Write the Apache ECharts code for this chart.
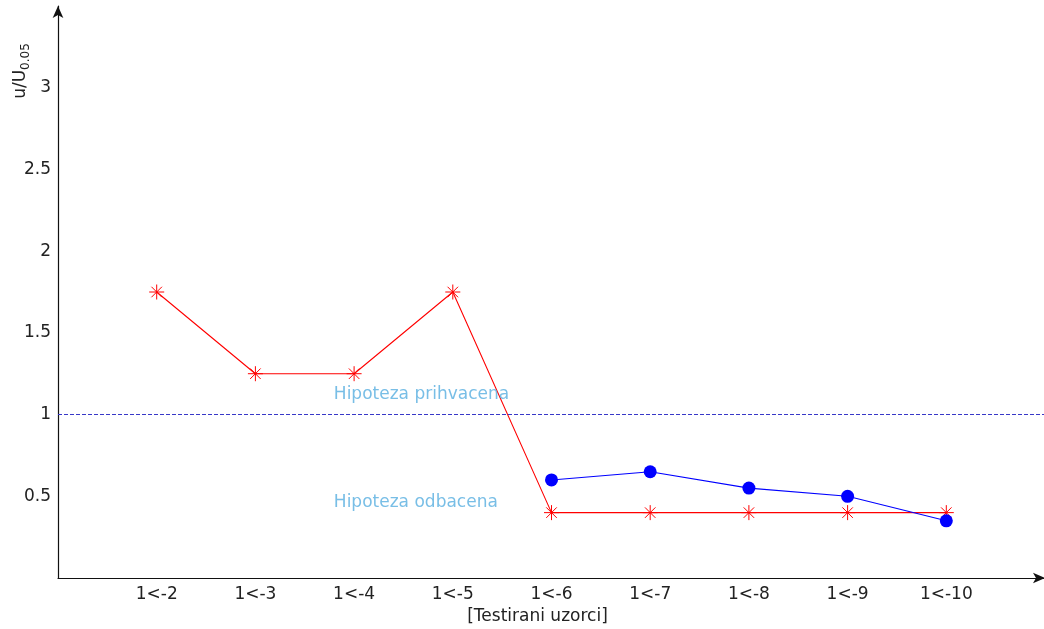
<!DOCTYPE html>
<html><head><meta charset="utf-8">
<script src="https://cdn.jsdelivr.net/npm/echarts@6/dist/echarts.min.js"></script>
<style>html,body{margin:0;padding:0;background:#fff}#c{width:1044px;height:629px}</style>
</head><body><div id="c"></div>
<script>
var categories = ['', '1<-2', '1<-3', '1<-4', '1<-5', '1<-6', '1<-7', '1<-8', '1<-9', '1<-10', ''];
var redValues = [null, 1.75, 1.25, 1.25, 1.75, 0.4, 0.4, 0.4, 0.4, 0.4, null];
var blueValues = [null, null, null, null, null, 0.6, 0.65, 0.55, 0.5, 0.35, null];
var thresholdValue = 1;
var notes = [
  { text: 'Hipoteza prihvacena', x: 2.795, y: 1.12 },
  { text: 'Hipoteza odbacena', x: 2.795, y: 0.46 }
];
var yTicks = { min: 0, max: 3.5, interval: 0.5 };

var FONT = 'DejaVu Sans';
var star = 'path://M0,5L10,5M5,0L5,10M1.5,1.5L8.5,8.5M8.5,1.5L1.5,8.5';
var chart = echarts.init(document.getElementById('c'));
chart.setOption({
  animation: false,
  backgroundColor: '#fff',
  grid: { left: 58, right: -1, top: 6, bottom: 51, outerBoundsMode: 'none', containLabel: false },
  xAxis: [{
    type: 'category', data: categories, boundaryGap: false,
    axisLine: { lineStyle: { color: '#111', width: 1.2 }, symbol: ['none', 'arrow'], symbolSize: [8, 12] },
    axisTick: { show: false },
    axisLabel: { color: '#222', fontFamily: FONT, fontSize: 17, margin: 8, interval: 0 },
    splitLine: { show: false },
    name: '[Testirani uzorci]', nameLocation: 'middle', nameGap: 29,
    nameTextStyle: { color: '#222', fontFamily: FONT, fontSize: 17, padding: [0, 28, 0, 0] }
  }, {
    type: 'value', min: 0, max: categories.length - 1, show: false
  }],
  yAxis: {
    type: 'value', min: yTicks.min, max: yTicks.max, interval: yTicks.interval,
    axisLine: { show: true, lineStyle: { color: '#111', width: 1.2 }, symbol: ['none', 'arrow'], symbolSize: [8, 12] },
    axisTick: { show: false },
    splitLine: { show: false },
    axisLabel: { color: '#222', fontFamily: FONT, fontSize: 17, margin: 7, showMinLabel: false, showMaxLabel: false }
  },
  graphic: [{
    type: 'text', x: 21, y: 71, rotation: Math.PI / 2,
    style: {
      text: '{a|u/U}{b|0.05}', align: 'center', verticalAlign: 'middle',
      rich: {
        a: { fontFamily: FONT, fontSize: 17, fill: '#222', color: '#222' },
        b: { fontFamily: FONT, fontSize: 12, fill: '#222', color: '#222', padding: [9, 0, 0, 0] }
      }
    }
  }],
  series: [
    {
      type: 'line', data: redValues, symbol: star, symbolSize: 15, showAllSymbol: true,
      lineStyle: { color: '#ff0000', width: 1.1 },
      itemStyle: { color: '#ff0000', borderColor: '#ff0000', borderWidth: 1 },
      markLine: {
        silent: true, symbol: 'none', label: { show: false },
        lineStyle: { color: '#3838c8', type: [4, 2], width: 1.2 },
        data: [{ yAxis: thresholdValue }]
      },
      z: 2
    },
    {
      type: 'line', data: blueValues, symbol: 'circle', symbolSize: 13, showAllSymbol: true,
      lineStyle: { color: '#0000ff', width: 1.1 },
      itemStyle: { color: '#0000ff' },
      z: 3
    },
    {
      type: 'scatter', symbolSize: 0,
      xAxisIndex: 1,
      data: notes.map(function (n) { return { value: [n.x, n.y], name: n.text }; }),
      label: {
        show: true, position: 'right', distance: 0, formatter: '{b}',
        color: '#56aee0', fontFamily: FONT, fontSize: 17
      },
      silent: true
    }
  ]
});
</script></body></html>
